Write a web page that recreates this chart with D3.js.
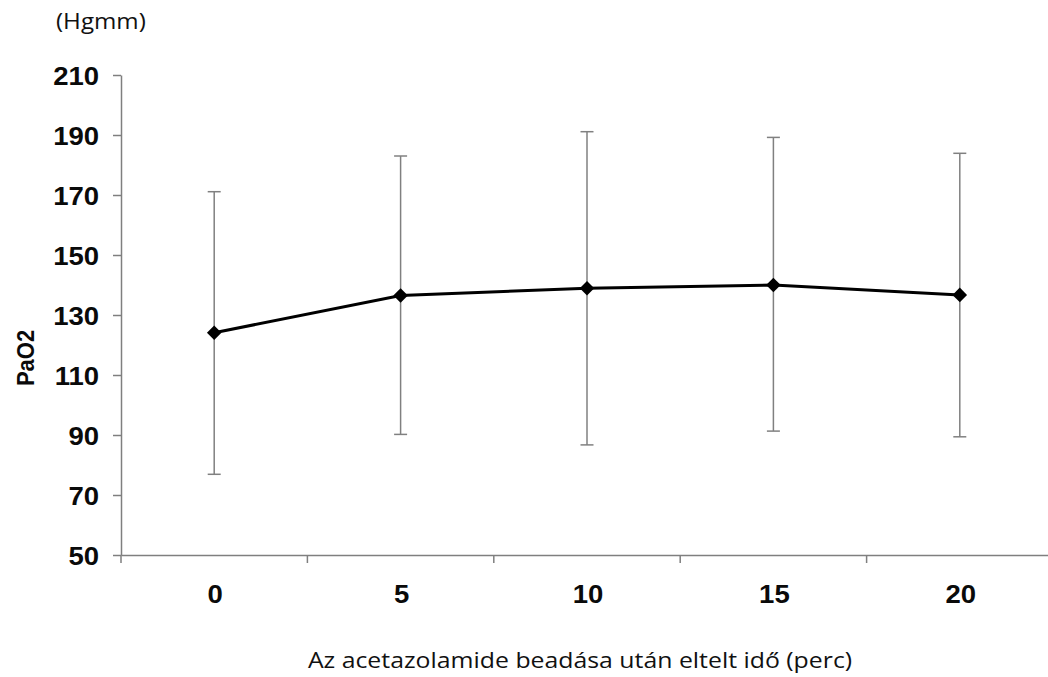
<!DOCTYPE html>
<html>
<head>
<meta charset="utf-8">
<script src="https://cdn.jsdelivr.net/npm/d3@7"></script>
<style>
  html, body { margin: 0; padding: 0; background: #fff; }
  svg { display: block; }
</style>
</head>
<body>
<svg id="chart" width="1048" height="677"></svg>
<script>
const categories = ["0", "5", "10", "15", "20"];
const meanValues = [124.1, 136.5, 138.9, 140.0, 136.7];
const upperValues = [171.1, 183.0, 191.1, 189.2, 183.9];
const lowerValues = [76.9, 90.2, 86.7, 91.3, 89.4];
const yTicks = [50, 70, 90, 110, 130, 150, 170, 190, 210];
const yUnit = "(Hgmm)";
const yTitle = "PaO2";
const xTitle = "Az acetazolamide beadása után eltelt idő (perc)";

const data = categories.map((c, i) => ({ c, mean: meanValues[i], hi: upperValues[i], lo: lowerValues[i] }));

const svg = d3.select("#chart");
const SX = 1.1;
const axisColor = "#7f7f7f";

const x = d3.scaleBand().domain(categories).range([121, 1053]).padding(0);
const y = d3.scaleLinear().domain([50, 210]).range([555, 75]);
const cx = d => x(d) + x.bandwidth() / 2;

// Y axis
const gy = svg.append("g").attr("transform", "translate(121,0)")
  .call(d3.axisLeft(y).tickValues(yTicks).tickSize(8).tickSizeOuter(0).tickPadding(0));
gy.select(".domain").attr("stroke", axisColor).attr("stroke-width", 1.5);
gy.selectAll(".tick line").attr("stroke", axisColor).attr("stroke-width", 1.5);
gy.selectAll(".tick text")
  .attr("x", null).attr("dy", null)
  .attr("transform", `translate(-22,0) scale(${SX},1)`)
  .attr("dy", "0.36em")
  .attr("text-anchor", "end")
  .style("font-family", "'Liberation Sans', Arial, sans-serif")
  .style("font-weight", "bold")
  .style("font-size", "25px")
  .attr("fill", "#0a0a0a");

// X axis (labels)
const gx = svg.append("g").attr("transform", "translate(0,555)")
  .call(d3.axisBottom(x).tickSize(0).tickSizeOuter(0).tickPadding(0));
gx.select(".domain").attr("stroke", axisColor).attr("stroke-width", 1.5);
gx.selectAll(".tick text")
  .attr("y", null).attr("dy", null)
  .attr("transform", `translate(1,48) scale(${SX},1)`)
  .attr("text-anchor", "middle")
  .style("font-family", "'Liberation Sans', Arial, sans-serif")
  .style("font-weight", "bold")
  .style("font-size", "25px")
  .attr("fill", "#0a0a0a");
// X boundary ticks
svg.append("g").selectAll("line").data(categories).join("line")
  .attr("x1", d => x(d)).attr("x2", d => x(d))
  .attr("y1", 555).attr("y2", 563)
  .attr("stroke", axisColor).attr("stroke-width", 1.5);

// Error bars
const eb = svg.append("g").attr("stroke", "#808080").attr("stroke-width", 1.5).attr("fill", "none");
eb.selectAll("line.v").data(data).join("line").attr("class", "v")
  .attr("x1", d => cx(d.c)).attr("x2", d => cx(d.c))
  .attr("y1", d => y(d.hi)).attr("y2", d => y(d.lo));
eb.selectAll("line.t").data(data).join("line").attr("class", "t")
  .attr("x1", d => cx(d.c) - 6.5).attr("x2", d => cx(d.c) + 6.5)
  .attr("y1", d => y(d.hi)).attr("y2", d => y(d.hi));
eb.selectAll("line.b").data(data).join("line").attr("class", "b")
  .attr("x1", d => cx(d.c) - 6.5).attr("x2", d => cx(d.c) + 6.5)
  .attr("y1", d => y(d.lo)).attr("y2", d => y(d.lo));

// Line
svg.append("path").datum(data)
  .attr("fill", "none").attr("stroke", "#000").attr("stroke-width", 3)
  .attr("d", d3.line().x(d => cx(d.c)).y(d => y(d.mean)));

// Markers
svg.append("g").selectAll("path").data(data).join("path")
  .attr("transform", d => `translate(${cx(d.c)},${y(d.mean)})`)
  .attr("d", d3.symbol(d3.symbolDiamond2, 135)())
  .attr("fill", "#000");

// Texts
svg.append("text")
  .attr("transform", `translate(56,29) scale(1.15,1)`)
  .style("font-family", "'Open Sans', sans-serif")
  .style("font-size", "21px")
  .attr("fill", "#111")
  .text(yUnit);

svg.append("text")
  .attr("transform", `translate(34,358) scale(${SX},1) rotate(-90)`)
  .attr("text-anchor", "middle")
  .style("font-family", "'Liberation Sans', Arial, sans-serif")
  .style("font-weight", "bold")
  .style("font-size", "22px")
  .attr("fill", "#0a0a0a")
  .text(yTitle);

svg.append("text")
  .attr("transform", `translate(580,668) scale(1.155,1)`)
  .attr("text-anchor", "middle")
  .style("font-family", "'Open Sans', sans-serif")
  .style("font-size", "21.5px")
  .attr("fill", "#111")
  .text(xTitle);
</script>
</body>
</html>
